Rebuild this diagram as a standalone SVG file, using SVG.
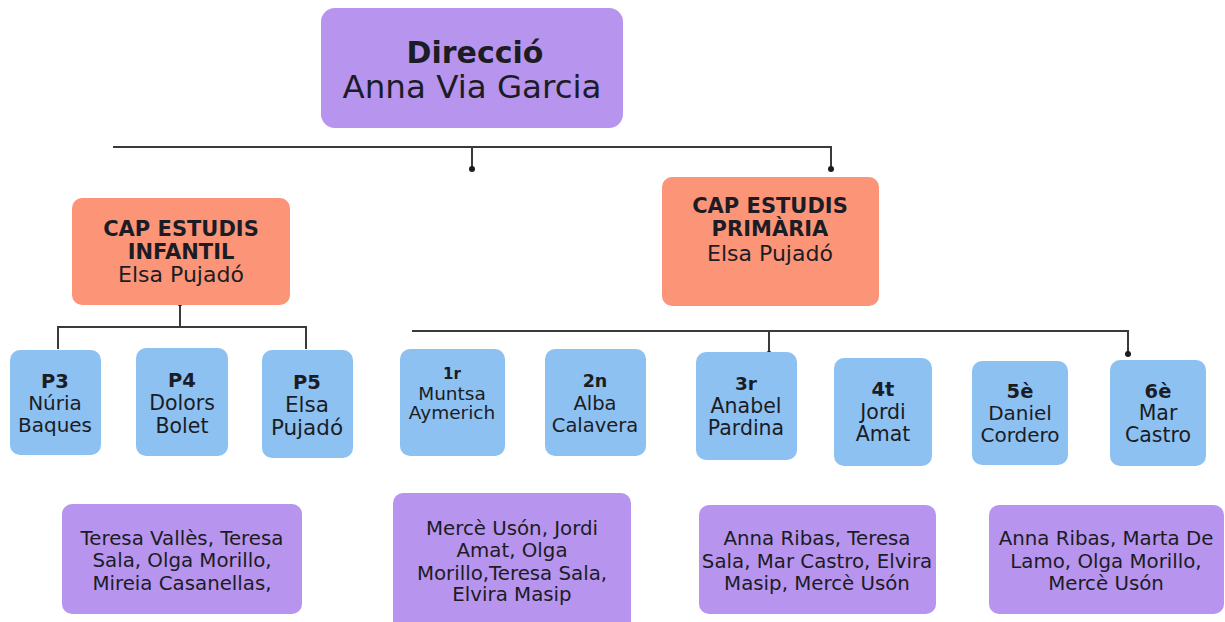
<svg xmlns="http://www.w3.org/2000/svg" width="1225" height="622" viewBox="0 0 1225 622">
<style>
text{font-family:"DejaVu Sans","Noto Sans","Liberation Sans",sans-serif;fill:#1c1c24;text-anchor:middle}
.b{font-weight:700}
.dir{fill:#b794ee}
.cap{fill:#fc9478}
.cls{fill:#8cc1f2}
.tut{fill:#b794ee}
.ln{stroke:#3a3a3a;stroke-width:2;fill:none}
.dot{fill:#1c1c1c}
.t{font-size:19.8px}
</style>
<rect width="1225" height="622" fill="#ffffff"/>
<g id="connectors">
<path class="ln" d="M113 147H831V169M472 147V169"/>
<circle class="dot" cx="472" cy="169" r="3"/>
<circle class="dot" cx="831" cy="169" r="3"/>
<path class="ln" d="M180 303V327M58 349V327H306V349"/>
<circle class="dot" cx="180" cy="303" r="3"/>
<path class="ln" d="M412 331H1128V354M769 331V354"/>
<circle class="dot" cx="769" cy="354" r="3"/>
<circle class="dot" cx="1128" cy="354" r="3"/>
</g>
<g id="direccio">
<rect class="dir" x="321" y="8" width="302" height="120" rx="14"/>
<text x="475" y="63" font-size="30" class="b">Direcció</text>
<text x="472" y="98" font-size="32.5">Anna Via Garcia</text>
</g>
<g id="cap-infantil">
<rect class="cap" x="72" y="198" width="218" height="107" rx="10"/>
<text x="181" y="236" font-size="21" class="b">CAP ESTUDIS</text>
<text x="181" y="259" font-size="21" class="b">INFANTIL</text>
<text x="181" y="282" font-size="22">Elsa Pujadó</text>
</g>
<g id="cap-primaria">
<rect class="cap" x="662" y="177" width="217" height="129" rx="10"/>
<text x="770" y="213" font-size="21" class="b">CAP ESTUDIS</text>
<text x="770" y="236" font-size="21" class="b">PRIMÀRIA</text>
<text x="770" y="261" font-size="22">Elsa Pujadó</text>
</g>
<g id="p3">
<rect class="cls" x="10" y="350" width="91" height="105" rx="10"/>
<text x="55" y="388" font-size="19.5" class="b">P3</text>
<text x="55" y="410" font-size="20">Núria</text>
<text x="55" y="432" font-size="20">Baques</text>
</g>
<g id="p4">
<rect class="cls" x="136" y="348" width="92" height="108" rx="10"/>
<text x="182" y="387" font-size="19.5" class="b">P4</text>
<text x="182" y="410" font-size="20.5">Dolors</text>
<text x="182" y="433" font-size="20.5">Bolet</text>
</g>
<g id="p5">
<rect class="cls" x="262" y="350" width="91" height="108" rx="10"/>
<text x="307" y="389" font-size="19.5" class="b">P5</text>
<text x="307" y="412" font-size="21.5">Elsa</text>
<text x="307" y="435" font-size="21.5">Pujadó</text>
</g>
<g id="c1r">
<rect class="cls" x="400" y="349" width="105" height="107" rx="10"/>
<text x="452" y="379" font-size="15" class="b">1r</text>
<text x="452" y="400" font-size="18.5">Muntsa</text>
<text x="452" y="419" font-size="18.5">Aymerich</text>
</g>
<g id="c2n">
<rect class="cls" x="545" y="349" width="101" height="107" rx="10"/>
<text x="595" y="387" font-size="17.5" class="b">2n</text>
<text x="595" y="410" font-size="19.5">Alba</text>
<text x="595" y="432" font-size="19.5">Calavera</text>
</g>
<g id="c3r">
<rect class="cls" x="696" y="352" width="101" height="108" rx="10"/>
<text x="746" y="390" font-size="18.5" class="b">3r</text>
<text x="746" y="413" font-size="20.5">Anabel</text>
<text x="746" y="435" font-size="20.5">Pardina</text>
</g>
<g id="c4t">
<rect class="cls" x="834" y="358" width="98" height="108" rx="10"/>
<text x="883" y="396" font-size="19.5" class="b">4t</text>
<text x="883" y="419" font-size="20.5">Jordi</text>
<text x="883" y="441" font-size="20.5">Amat</text>
</g>
<g id="c5e">
<rect class="cls" x="972" y="361" width="96" height="104" rx="10"/>
<text x="1020" y="398" font-size="19.5" class="b">5è</text>
<text x="1020" y="420" font-size="20">Daniel</text>
<text x="1020" y="442" font-size="20">Cordero</text>
</g>
<g id="c6e">
<rect class="cls" x="1110" y="360" width="96" height="106" rx="10"/>
<text x="1158" y="398" font-size="19.5" class="b">6è</text>
<text x="1158" y="420" font-size="20.5">Mar</text>
<text x="1158" y="442" font-size="20.5">Castro</text>
</g>
<g id="tutors-infantil">
<rect class="tut" x="62" y="504" width="240" height="110" rx="10"/>
<text class="t" x="182" y="545">Teresa Vallès, Teresa</text>
<text class="t" x="182" y="567">Sala, Olga Morillo,</text>
<text class="t" x="182" y="590">Mireia Casanellas,</text>
</g>
<g id="tutors-cicle-inicial">
<rect class="tut" x="393" y="493" width="238" height="140" rx="10"/>
<text class="t" x="512" y="535">Mercè Usón, Jordi</text>
<text class="t" x="512" y="557">Amat, Olga</text>
<text class="t" x="512" y="580">Morillo,Teresa Sala,</text>
<text class="t" x="512" y="601">Elvira Masip</text>
</g>
<g id="tutors-cicle-mitja">
<rect class="tut" x="699" y="505" width="237" height="109" rx="10"/>
<text class="t" x="817" y="545">Anna Ribas, Teresa</text>
<text class="t" x="817" y="568">Sala, Mar Castro, Elvira</text>
<text class="t" x="817" y="590">Masip, Mercè Usón</text>
</g>
<g id="tutors-cicle-superior">
<rect class="tut" x="989" y="505" width="235" height="109" rx="10"/>
<text class="t" x="1106" y="545">Anna Ribas, Marta De</text>
<text class="t" x="1106" y="568">Lamo, Olga Morillo,</text>
<text class="t" x="1106" y="590">Mercè Usón</text>
</g>
</svg>
